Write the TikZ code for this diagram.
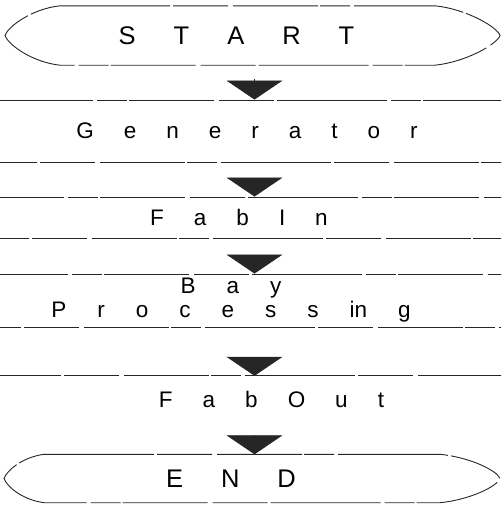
\documentclass[tikz,border=0pt]{standalone}
\usepackage{fontspec}
\setmainfont{Liberation Sans}
\usetikzlibrary{arrows.meta}
\newcommand\wordgap[1]{\spaceskip=#1\relax}

\begin{document}
\begin{tikzpicture}[x=1pt,y=-1pt,
  scanline/.style={draw=black!85, line width=0.9pt, dash pattern=on 110pt off 3pt on 55pt off 5pt on 85pt off 2pt on 30pt off 4pt},
  stagetext/.style={font=\fontsize{22.5}{24}\selectfont\wordgap{30pt}, inner sep=0pt, minimum width=640pt},
  stagebox/.style={stagetext, scanline},
  termtext/.style={font=\fontsize{25.5}{28}\selectfont\wordgap{38pt}, inner sep=0pt, minimum height=59pt},
  flowarrow/.style={-{Triangle[length=19pt,width=56pt]}, black!85, line width=0.5pt}]
\useasboundingbox (0,0) rectangle (501,506);
\clip (0,0) rectangle (501,506);
\coordinate (axis) at (254.5,0);
% nodes
\node[termtext] (start) at (236.5,35.5) {S T A R T};
\node[stagebox, minimum height=62pt] (gen) at (247,131) {G e n e r a t o r};
\node[stagebox, minimum height=41pt] (fabin) at (239,217.5) {F a b I n};
\node[stagebox, minimum height=53pt, align=center, font=\fontsize{22.5}{24}\selectfont\wordgap{31pt}] (bay) at (231,300.5) {B a y\\P r o c e s s in g};
\node[stagetext, minimum height=47pt] (fabout) at (271.5,399.5) {F a b O u t};
\node[termtext, minimum height=48pt] (end) at (231,478.5) {E N D};
% terminal outlines
\draw[scanline] ([xshift=-176.5pt]start.north) -- ([xshift=198.5pt]start.north)
  .. controls +(30,3) and +(-3,-9) .. ([xshift=263.5pt]start.center)
  .. controls +(-3,9) and +(30,-3) .. ([xshift=198.5pt]start.south)
  -- ([xshift=-176.5pt]start.south)
  .. controls +(-28,-3) and +(3,9) .. ([xshift=-231.5pt]start.center)
  .. controls +(3,-9) and +(-28,3) .. ([xshift=-176.5pt]start.north);
\draw[scanline] ([xshift=-187pt]end.north) -- ([xshift=209pt]end.north)
  .. controls +(30,3) and +(-3,-8) .. ([xshift=269pt]end.center)
  .. controls +(-3,8) and +(30,-3) .. ([xshift=209pt]end.south)
  -- ([xshift=-187pt]end.south)
  .. controls +(-22,-3) and +(3,8) .. ([xshift=-227pt]end.center)
  .. controls +(3,-8) and +(-22,3) .. ([xshift=-187pt]end.north);
\draw[scanline] (fabout.north west) -- (fabout.north east);
% arrows
\draw[flowarrow, shorten <=14pt] (start.south -| axis) -- (gen.north -| axis);
\draw[flowarrow, shorten <=16pt] (gen.south -| axis) -- (fabin.north -| axis);
\draw[flowarrow, shorten <=17pt] (fabin.south -| axis) -- (bay.north -| axis);
\draw[flowarrow, shorten <=30pt] (bay.south -| axis) -- (fabout.north -| axis);
\draw[flowarrow, shorten <=12pt] (fabout.south -| axis) -- (end.north -| axis);
\end{tikzpicture}
\end{document}
